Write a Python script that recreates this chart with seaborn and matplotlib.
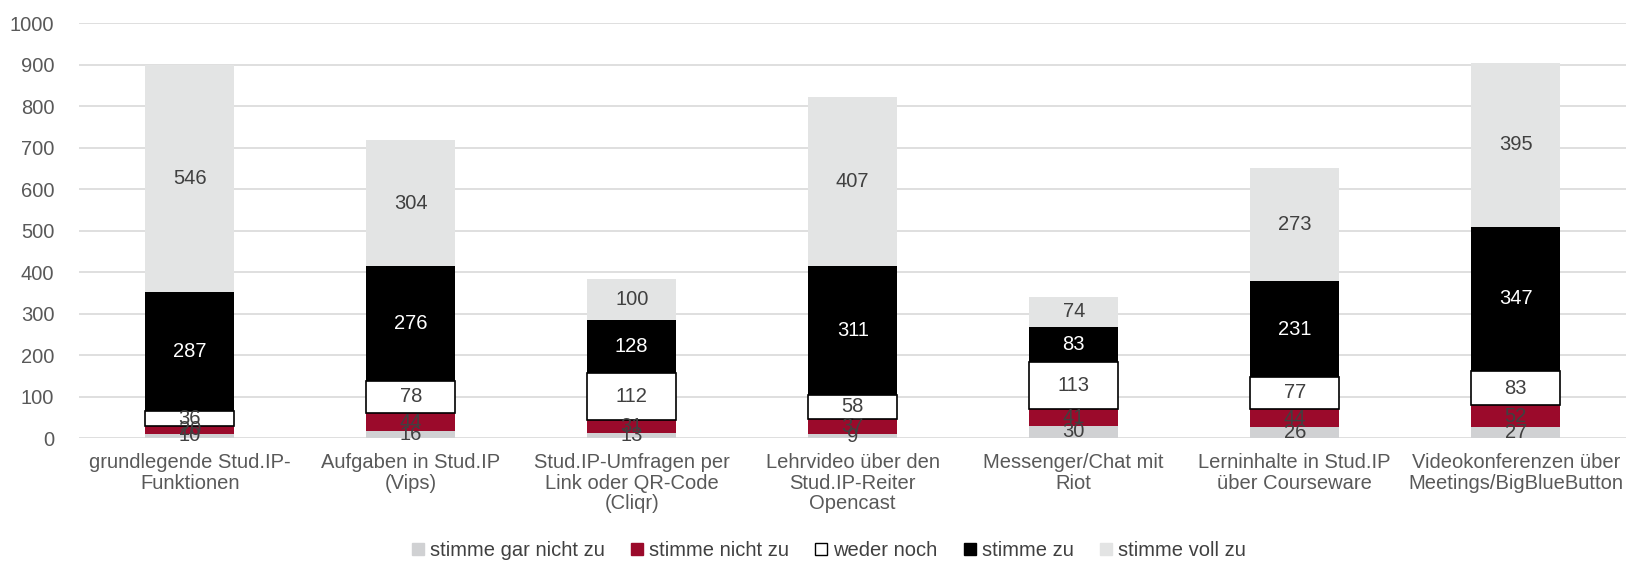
"""Stacked bar chart: Zustimmung zu Stud.IP-Werkzeugen."""
import matplotlib
matplotlib.use("Agg")
import matplotlib.pyplot as plt
import pandas as pd
import seaborn as sns
from matplotlib.patches import Patch

categories = [
    "grundlegende Stud.IP-\nFunktionen",
    "Aufgaben in Stud.IP\n(Vips)",
    "Stud.IP-Umfragen per\nLink oder QR-Code\n(Cliqr)",
    "Lehrvideo über den\nStud.IP-Reiter\nOpencast",
    "Messenger/Chat mit\nRiot",
    "Lerninhalte in Stud.IP\nüber Courseware",
    "Videokonferenzen über\nMeetings/BigBlueButton",
]
responses = ["stimme gar nicht zu", "stimme nicht zu", "weder noch", "stimme zu", "stimme voll zu"]
gar_nicht = [10, 16, 13, 9, 30, 26, 27]
nicht = [20, 44, 31, 37, 41, 44, 52]
weder = [36, 78, 112, 58, 113, 77, 83]
zu = [287, 276, 128, 311, 83, 231, 347]
voll = [546, 304, 100, 407, 74, 273, 395]

colors = {
    "stimme gar nicht zu": "#d0d1d3",
    "stimme nicht zu": "#9b0a2b",
    "weder noch": "#ffffff",
    "stimme zu": "#000000",
    "stimme voll zu": "#e3e4e4",
}

rows = []
for resp, vals in zip(responses, [gar_nicht, nicht, weder, zu, voll]):
    for cat, v in zip(categories, vals):
        rows.append({"cat": cat, "resp": resp, "n": v})
df = pd.DataFrame(rows)

sns.set_theme(style="white")
plt.rcParams["font.family"] = ["Liberation Sans", "DejaVu Sans"]

fig = plt.figure(figsize=(16.51, 5.63), dpi=100)
ax = fig.add_axes([0.048, 0.222, 0.937, 0.737])

# seaborn stacks hue levels bottom-up from the last one, so reverse the order
sns.histplot(
    data=df, x="cat", hue="resp", weights="n", multiple="stack",
    hue_order=responses[::-1], palette=colors, discrete=True, shrink=0.405,
    alpha=1, linewidth=0, legend=False, ax=ax,
)

for cont in ax.containers:
    face = cont.patches[0].get_facecolor()
    is_black = face[0] < 0.1 and face[1] < 0.1
    is_white = face[0] > 0.99 and face[1] > 0.99 and face[2] > 0.99
    if is_white:
        for p in cont.patches:
            p.set_edgecolor("black")
            p.set_linewidth(1.2)
    ax.bar_label(cont, fmt="%.0f", label_type="center", fontsize=14.5,
                 color="white" if is_black else "#404040")

ax.set_ylim(0, 1000)
ax.set_xlim(-0.5, 6.5)
ax.set_yticks(range(0, 1001, 100))
ax.yaxis.grid(True, color="#d9d9d9", linewidth=1.2)
ax.set_axisbelow(True)
for s in ax.spines.values():
    s.set_visible(False)
ax.set_xlabel("")
ax.set_ylabel("")
ax.tick_params(axis="both", length=0, labelsize=14.5, labelcolor="#595959")
ax.tick_params(axis="x", pad=11)
ax.tick_params(axis="y", pad=18)
for lbl in ax.get_xticklabels():
    lbl.set_linespacing(1.1)

handles = [
    Patch(facecolor=colors[r], edgecolor="black" if r == "weder noch" else colors[r], linewidth=1)
    for r in responses
]
fig.legend(handles, responses, loc="center", bbox_to_anchor=(0.502, 0.022), ncol=5,
           frameon=False, fontsize=14.5, handlelength=0.6, handleheight=0.6,
           handletextpad=0.3, columnspacing=1.3, labelcolor="#404040")

fig.savefig("out.png", dpi=100)
